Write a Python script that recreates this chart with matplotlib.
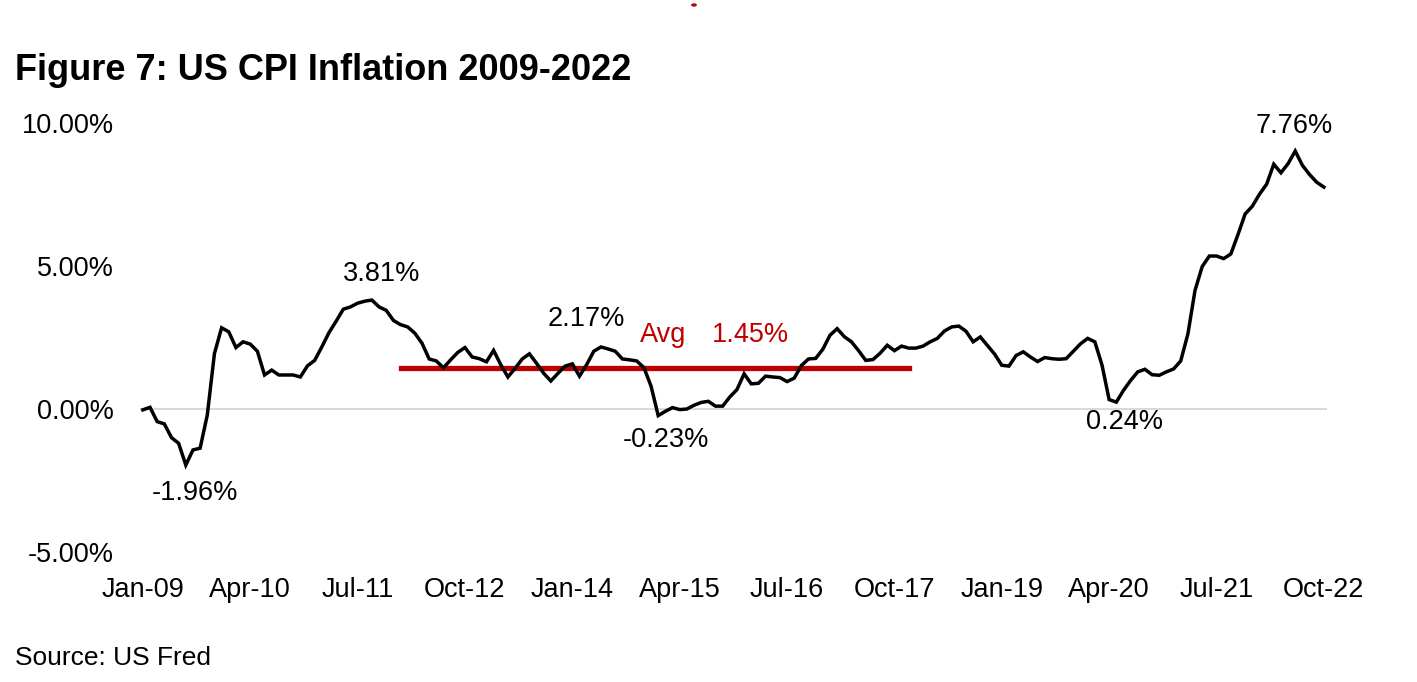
import numpy as np
import pandas as pd
import matplotlib
matplotlib.use("Agg")
import matplotlib.pyplot as plt
from matplotlib.patches import Circle

plt.rcParams['font.family'] = ['Liberation Sans', 'DejaVu Sans']

# Monthly US CPI YoY inflation (%), Jan-2009 .. Oct-2022
cpi_2009 = [-0.03, 0.06, -0.44, -0.52, -1.00, -1.20, -1.96, -1.43, -1.37, -0.21, 1.94, 2.84]
cpi_2010 = [2.70, 2.15, 2.35, 2.27, 2.02, 1.19, 1.36, 1.19, 1.19, 1.19, 1.12, 1.51]
cpi_2011 = [1.70, 2.17, 2.67, 3.07, 3.49, 3.57, 3.70, 3.77, 3.81, 3.57, 3.45, 3.10]
cpi_2012 = [2.95, 2.87, 2.65, 2.30, 1.75, 1.68, 1.44, 1.72, 1.98, 2.15, 1.82, 1.76]
cpi_2013 = [1.65, 2.05, 1.55, 1.12, 1.42, 1.75, 1.93, 1.60, 1.25, 0.98, 1.25, 1.50]
cpi_2014 = [1.58, 1.15, 1.55, 2.02, 2.17, 2.10, 2.02, 1.75, 1.72, 1.68, 1.45, 0.80]
cpi_2015 = [-0.23, -0.08, 0.05, -0.02, 0.00, 0.13, 0.23, 0.27, 0.10, 0.10, 0.42, 0.68]
cpi_2016 = [1.23, 0.88, 0.90, 1.15, 1.12, 1.10, 0.96, 1.08, 1.52, 1.75, 1.77, 2.09]
cpi_2017 = [2.58, 2.81, 2.53, 2.35, 2.04, 1.70, 1.73, 1.95, 2.23, 2.04, 2.20, 2.13]
cpi_2018 = [2.13, 2.20, 2.35, 2.47, 2.73, 2.87, 2.90, 2.72, 2.35, 2.52, 2.22, 1.92]
cpi_2019 = [1.53, 1.50, 1.87, 2.00, 1.82, 1.66, 1.80, 1.76, 1.74, 1.76, 2.02, 2.28]
cpi_2020 = [2.47, 2.35, 1.54, 0.33, 0.24, 0.65, 1.00, 1.30, 1.39, 1.20, 1.18, 1.30]
cpi_2021 = [1.40, 1.68, 2.62, 4.15, 4.98, 5.35, 5.35, 5.26, 5.42, 6.10, 6.82, 7.09]
cpi_2022 = [7.51, 7.86, 8.56, 8.26, 8.58, 9.02, 8.52, 8.20, 7.93, 7.76]

cpi = np.array(cpi_2009 + cpi_2010 + cpi_2011 + cpi_2012 + cpi_2013 + cpi_2014 + cpi_2015
               + cpi_2016 + cpi_2017 + cpi_2018 + cpi_2019 + cpi_2020 + cpi_2021 + cpi_2022)
dates = pd.date_range("2009-01-01", periods=len(cpi), freq="MS")
x = np.arange(len(cpi))

# Average line 2012-2017
avg_value = 1.45
avg_start, avg_end = 36, 107

# Labels: (text, month position, y value, colour)
labels = [
    ("-1.96%", 7.3, -2.95, "black"),
    ("3.81%", 33.3, 4.72, "black"),
    ("2.17%", 61.9, 3.15, "black"),
    ("Avg", 72.7, 2.58, "#C00000"),
    ("1.45%", 84.9, 2.58, "#C00000"),
    ("-0.23%", 73.1, -1.08, "black"),
    ("0.24%", 137.1, -0.45, "black"),
    ("7.76%", 160.9, 9.88, "black"),
]

fig = plt.figure(figsize=(14.17, 6.82), dpi=100)
ax = fig.add_axes([0.0988, 0.1906, 0.838, 0.629])

ax.axhline(0, color="#d9d9d9", lw=1.5, zorder=1)
ax.plot(x, cpi, color="black", lw=2.5, zorder=3, solid_joinstyle="miter")
ax.plot([avg_start, avg_end], [avg_value, avg_value], color="#C00000", lw=3.8, zorder=2)

for txt, xm, yv, col in labels:
    ax.text(xm, yv, txt, ha="center", va="center", fontsize=19.5, color=col)

ax.set_xlim(-0.4, len(cpi) - 0.5)
ax.set_ylim(-5, 10)
ax.set_yticks([-5, 0, 5, 10])
ax.set_yticklabels([f"{v:.2f}%" for v in [-5, 0, 5, 10]])
tick_pos = x[::15]
ax.set_xticks(tick_pos)
ax.set_xticklabels([dates[i].strftime("%b-%y") for i in tick_pos])
ax.tick_params(axis="both", length=0, labelsize=19.5)
ax.tick_params(axis="y", pad=19)
ax.tick_params(axis="x", pad=18)
for s in ax.spines.values():
    s.set_visible(False)

fig.text(0.0106, 0.897, "Figure 7: US CPI Inflation 2009-2022", fontsize=26,
         fontweight="bold", va="center", ha="left")
fig.text(0.0106, 0.035, "Source: US Fred", fontsize=19, va="center", ha="left")

# small red mark at top of page
fig.add_artist(Circle((694 / 1417, 1 - 5 / 682), 0.0015, transform=fig.transFigure,
                      color="#C00000"))

fig.savefig("out.png", dpi=100)
